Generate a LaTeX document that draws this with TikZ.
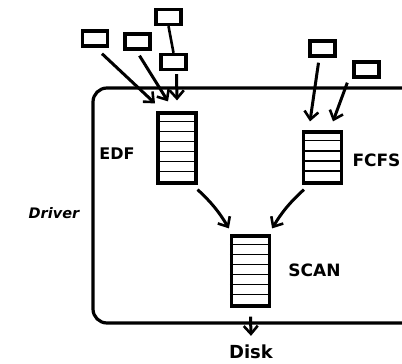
\documentclass[tikz,border=0pt]{standalone}
\usepackage{fontspec}
\setmainfont{DejaVu Sans}
\usetikzlibrary{arrows.meta,calc}
\begin{document}
\begin{tikzpicture}[x=1pt,y=-1pt,
  tok/.style={draw,line width=3.4pt,minimum width=25pt,minimum height=15pt,inner sep=0pt},
  queue/.style={draw,line width=3.2pt,minimum width=38pt,inner sep=0pt},
  qline/.style={line width=1.6pt},
  lbl/.style={font=\bfseries\fontsize{17}{18}\selectfont,inner sep=0pt},
  arr/.style={line width=3pt,-{Straight Barb[length=8pt,width=14pt,line width=2.6pt]}}]
\useasboundingbox (0,0) rectangle (402,364);
\begin{scope}
\clip (0,0) rectangle (402,364);
\draw[line width=3.2pt,rounded corners=14pt] (93,88) rectangle (415,323);
\end{scope}
% tokens
\node[tok] (b1) at (95,38.5) {};
\node[tok] (b2) at (137.5,41.5) {};
\node[tok] (b3) at (168.5,17) {};
\node[tok] (b4) at (173.5,62) {};
\node[tok] (b5) at (322.5,48.5) {};
\node[tok] (b6) at (366.5,69.5) {};
% queues
\node[queue,minimum height=70pt] (edf) at (177,148) {};
\node[queue,minimum height=51pt] (fcfs) at (322.5,157.5) {};
\node[queue,minimum height=70pt] (scan) at (250.5,271) {};
\foreach \k in {1,...,6}{
  \draw[qline] ($(edf.north west)+(0,\k*10)$) -- ($(edf.north east)+(0,\k*10)$);
  \draw[qline] ($(scan.north west)+(0,\k*10)$) -- ($(scan.north east)+(0,\k*10)$);
}
\foreach \k in {1,...,4}{
  \draw[qline] ($(fcfs.north west)+(0,\k*10.2)$) -- ($(fcfs.north east)+(0,\k*10.2)$);
}
% labels
\node[lbl,font=\bfseries\fontsize{16}{17}\selectfont] (ledf) at (117,153.5) {EDF};
\node[lbl] (lfcfs) at (376.5,160) {FCFS};
\node[lbl] (lscan) at (314.5,270) {SCAN};
\node[lbl,font=\bfseries\itshape\fontsize{14.5}{15}\selectfont] (ldrv) at (54,213) {Driver};
\node[lbl,font=\bfseries\fontsize{18}{19}\selectfont] (disk) at (251,352) {Disk};
% connectors
\draw[line width=2.6pt] (b3.south) -- (b4.north);
\draw[arr] ([shift={(7,6)}]b1.south) -- ([shift={(-22,-8)}]edf.north);
\draw[arr] ([shift={(2,5)}]b2.south) -- ([shift={(-9,-10)}]edf.north);
\draw[arr] ([shift={(3,3)}]b4.south) -- ([shift={(0,-11)}]edf.north);
\draw[arr] ([shift={(-4,5)}]b5.south) -- ([shift={(-12.5,-9)}]fcfs.north);
\draw[arr] ([shift={(-5,4)}]b6.south west) -- ([shift={(10.5,-9)}]fcfs.north);
\draw[arr] ([shift={(0,5)}]edf.south east) to[bend left=8] ([shift={(-1,-6)}]scan.north west);
\draw[arr] ([shift={(2,5)}]fcfs.south west) to[bend right=8] ([shift={(1,-6)}]scan.north east);
\draw[arr] ([shift={(0,9)}]scan.south) -- ([shift={(0,-9)}]disk.north);
\end{tikzpicture}
\end{document}
